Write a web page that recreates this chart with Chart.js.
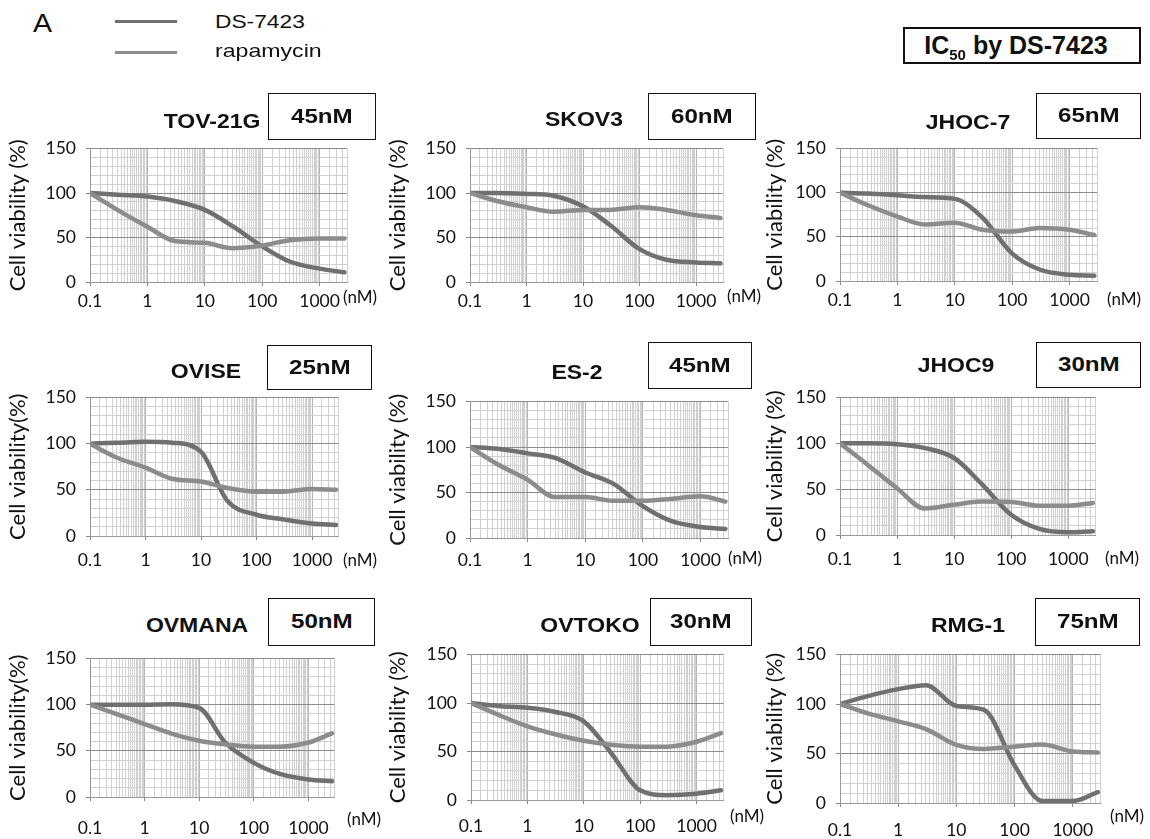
<!DOCTYPE html>
<html>
<head>
<meta charset="utf-8">
<script src="https://cdn.jsdelivr.net/npm/chart.js@4.4.0/dist/chart.umd.min.js"></script>
<style>
  body { margin: 0; background: #fff; }
  #page { position: relative; width: 1150px; height: 839px; overflow: hidden;
          font-family: "Liberation Sans", Arial, sans-serif; color: #111; }
  #page canvas { position: absolute; }
  .txt { position: absolute; white-space: nowrap; line-height: 1; }
  .box { position: absolute; box-sizing: border-box; border: 1.5px solid #111; background: #fff;
         display: flex; align-items: center; justify-content: center; }
  .leg { position: absolute; height: 3px; background: #8a8a8a; }
</style>
</head>
<body>
<div id="page"></div>
<script>
// concentrations (nM), shared by every panel
const doses = [0.1, 0.3, 1, 3, 10, 30, 100, 300, 1000, 2700];
const xMax = 3000;
const xTickValues = [0.1, 1, 10, 100, 1000];
const xTickLabels = ['0.1', '1', '10', '100', '1000'];
const yTickValues = [0, 50, 100, 150];

const cellLines = ['TOV-21G', 'SKOV3', 'JHOC-7', 'OVISE', 'ES-2', 'JHOC9', 'OVMANA', 'OVTOKO', 'RMG-1'];
const ic50Labels = ['45nM', '60nM', '65nM', '25nM', '45nM', '30nM', '50nM', '30nM', '75nM'];
const yTitles = ['Cell viability (%)', 'Cell viability (%)', 'Cell viability (%)',
                 'Cell viability(%)', 'Cell viability (%)', 'Cell viability (%)',
                 'Cell viability(%)', 'Cell viability (%)', 'Cell viability (%)'];

// cell viability (%) per panel
const dsTOV21G  = [100, 98, 96, 91, 81, 63, 40, 23, 15, 11];
const rapTOV21G = [100, 81, 62, 46, 44, 38, 41, 47, 49, 49];
const dsSKOV3   = [100, 100, 99, 97, 85, 64, 37, 25, 22, 21];
const rapSKOV3  = [100, 91, 84, 79, 81, 81, 84, 81, 75, 72];
const dsJHOC7   = [100, 99, 97, 95, 93, 72, 31, 13, 7, 6];
const rapJHOC7  = [100, 86, 73, 64, 66, 58, 56, 60, 58, 52];
const dsOVISE   = [100, 101, 102, 101, 91, 38, 23, 18, 13.5, 12];
const rapOVISE  = [100, 85, 74, 62, 59, 52, 48, 48, 51, 50];
const dsES2     = [100, 98, 93, 88, 72, 60, 35, 19, 12, 10];
const rapES2    = [100, 81, 64, 45, 45, 41, 41, 43, 46, 40];
const dsJHOC9   = [100, 100, 99, 95, 84, 56, 22, 7, 3, 4];
const rapJHOC9  = [100, 77, 51, 29, 33, 36.5, 36, 32, 32, 35];
const dsOVMANA  = [100, 100, 100, 100.5, 96.5, 59, 37, 25, 19, 17];
const rapOVMANA = [100, 90, 79, 69, 61, 57, 54.5, 54.5, 59, 69];
const dsOVTOKO  = [100, 97, 95, 91, 81, 49, 10, 5, 6.5, 10];
const rapOVTOKO = [100, 88, 76, 68, 61, 57, 55, 55, 60, 69];
const dsRMG1    = [100, 108, 115, 119, 98, 94, 38, 2, 2, 11];
const rapRMG1   = [100, 90.5, 82.5, 74.6, 58.7, 54.6, 57, 59, 52, 51];

const dsSeries  = [dsTOV21G, dsSKOV3, dsJHOC7, dsOVISE, dsES2, dsJHOC9, dsOVMANA, dsOVTOKO, dsRMG1];
const rapSeries = [rapTOV21G, rapSKOV3, rapJHOC7, rapOVISE, rapES2, rapJHOC9, rapOVMANA, rapOVTOKO, rapRMG1];

// layout (page pixels)
const colLefts = [0, 380, 760, 0, 380, 760, 0, 380, 760];
const plotRects = [
  [90, 140, 347, 282], [470, 140, 723, 282], [840, 140, 1097, 281],
  [90, 389, 340, 536], [470, 393, 728, 538], [840, 389, 1097, 535],
  [90, 650, 343, 797], [471, 646, 727, 800], [840, 646, 1105, 803]
];
const titleCenters = [[212, 121], [584, 119], [968, 122], [206, 371], [577, 372], [956, 365],
                      [197, 625], [590, 625], [968, 625]];
const boxRects = [
  [268, 93, 376, 140], [648, 93, 756, 140], [1036, 93, 1141, 139],
  [267, 345, 372, 390], [648, 342, 752, 389], [1036, 342, 1141, 388],
  [268, 598, 375, 646], [650, 598, 752, 646], [1035, 598, 1140, 646]
];
const nmPos = [[343, 296], [727, 295], [1107, 298], [343, 559], [728, 557], [1105, 557],
               [347, 818], [730, 815], [1110, 815]];
const labelGaps = [19, 19, 19, 24, 22, 24, 31, 26, 27];

const DS_COLOR = '#707070';
const RAP_COLOR = '#8c8c8c';
const TICK_FONT = { family: 'Lato', size: 17.5 };

const page = document.getElementById('page');

function addText(html, x, y, css, anchor) {
  const d = document.createElement('div');
  d.className = 'txt';
  d.innerHTML = html;
  d.style.left = x + 'px';
  d.style.top = y + 'px';
  Object.assign(d.style, css);
  d.style.transformOrigin = anchor === 'left' ? '0 50%' : '50% 50%';
  page.appendChild(d);
  return d;
}

// grid positions: x at 1, 1.5, 2 ... 9.5 in each decade plus the right edge; y every 10
const xGrid = [];
for (let e = -1; e <= 3; e++) {
  for (let k = 1; k < 10; k += 0.5) {
    const v = parseFloat((k * Math.pow(10, e)).toPrecision(6));
    if (v <= xMax) xGrid.push(v);
  }
}
xGrid.push(xMax);
const yGrid = [];
for (let v = 0; v <= 150; v += 10) yGrid.push(v);

function isDecade(v) {
  const l = Math.log10(v);
  return Math.abs(l - Math.round(l)) < 1e-9 && v <= 1000;
}

Chart.defaults.font.family = 'Lato';
Chart.defaults.color = '#111';

cellLines.forEach((name, i) => {
  const [L, T, R, B] = plotRects[i];
  const padTop = 12, padRight = 8, xH = 45;
  const yW = L - colLefts[i];
  const canvas = document.createElement('canvas');
  const cw = R + padRight - colLefts[i];
  const ch = (B + xH) - (T - padTop);
  canvas.width = cw; canvas.height = ch;
  canvas.style.left = colLefts[i] + 'px';
  canvas.style.top = (T - padTop) + 'px';
  canvas.style.width = cw + 'px';
  canvas.style.height = ch + 'px';
  page.appendChild(canvas);

  const col = i % 3;
  new Chart(canvas.getContext('2d'), {
    type: 'line',
    data: {
      datasets: [
        { label: 'rapamycin', data: doses.map((d, j) => ({ x: d, y: rapSeries[i][j] })),
          borderColor: RAP_COLOR, borderWidth: 4.5, pointRadius: 0, cubicInterpolationMode: 'monotone',
          borderCapStyle: 'round', fill: false },
        { label: 'DS-7423', data: doses.map((d, j) => ({ x: d, y: dsSeries[i][j] })),
          borderColor: DS_COLOR, borderWidth: 4.5, pointRadius: 0, cubicInterpolationMode: 'monotone',
          borderCapStyle: 'round', fill: false }
      ]
    },
    options: {
      responsive: false,
      animation: false,
      devicePixelRatio: 1,
      layout: { padding: { top: padTop, right: padRight, left: 0, bottom: 0 } },
      plugins: { legend: { display: false }, tooltip: { enabled: false } },
      scales: {
        x: {
          type: 'logarithmic',
          min: 0.1, max: xMax,
          afterBuildTicks: s => { s.ticks = xGrid.map(v => ({ value: v })); },
          afterFit: s => { s.height = xH; },
          ticks: {
            autoSkip: false, maxRotation: 0, font: TICK_FONT, color: '#111',
            padding: labelGaps[i] - 4 - 10.5,
            callback: v => {
              const k = xTickValues.findIndex(t => Math.abs(t - v) < 1e-9);
              return k >= 0 ? xTickLabels[k] : '';
            }
          },
          grid: {
            tickLength: 4,
            color: c => isDecade(c.tick.value) ? '#b4b4b4' : '#d0d0d0',
            tickColor: c => isDecade(c.tick.value) ? '#888' : 'rgba(0,0,0,0)'
          },
          border: { color: '#999' }
        },
        y: {
          min: 0, max: 150,
          afterBuildTicks: s => { s.ticks = yGrid.map(v => ({ value: v })); },
          afterFit: s => { s.width = yW; },
          ticks: {
            autoSkip: false, font: TICK_FONT, color: '#111', padding: 10,
            callback: v => yTickValues.includes(v) ? String(v) : ''
          },
          grid: {
            tickLength: 4,
            color: c => yTickValues.includes(c.tick.value) ? '#8c8c8c' : '#d0d0d0',
            tickColor: c => yTickValues.includes(c.tick.value) ? '#888' : 'rgba(0,0,0,0)'
          },
          border: { color: '#999' },
          title: {
            display: true, text: yTitles[i], color: '#111',
            font: { family: 'Lato', size: 22 },
            padding: { top: col === 2 ? 2 : 5, bottom: 0 }
          }
        }
      }
    }
  });

  // panel title, IC50 box, unit label
  addText(name, titleCenters[i][0], titleCenters[i][1],
    { fontSize: '20px', fontWeight: 'bold', transform: 'translate(-50%,-50%) scaleX(1.15)' });
  const [bx1, by1, bx2, by2] = boxRects[i];
  const box = document.createElement('div');
  box.className = 'box';
  box.style.left = bx1 + 'px'; box.style.top = by1 + 'px';
  box.style.width = (bx2 - bx1) + 'px'; box.style.height = (by2 - by1) + 'px';
  const bt = document.createElement('span');
  bt.textContent = ic50Labels[i];
  bt.style.cssText = 'font-size:21px;font-weight:bold;display:inline-block;transform:scaleX(1.15);line-height:1;margin-top:-3px';
  box.appendChild(bt);
  page.appendChild(box);
  addText('(nM)', nmPos[i][0], nmPos[i][1],
    { fontFamily: 'Lato', fontSize: '17px', transform: 'translateY(-50%)' }, 'left');
});

// figure letter and legend
addText('A', 33, 22.5, { fontSize: '26px', transform: 'translateY(-50%) scaleX(1.1)' }, 'left');
const leg1 = document.createElement('div');
leg1.className = 'leg'; leg1.style.cssText += 'left:115px;top:20px;width:62px;background:' + DS_COLOR;
page.appendChild(leg1);
const leg2 = document.createElement('div');
leg2.className = 'leg'; leg2.style.cssText += 'left:115px;top:51px;width:62px;background:' + RAP_COLOR;
page.appendChild(leg2);
addText('DS-7423', 215, 21.7, { fontSize: '18.5px', transform: 'translateY(-50%) scaleX(1.23)' }, 'left');
addText('rapamycin', 215, 51.3, { fontSize: '18.5px', transform: 'translateY(-50%) scaleX(1.25)' }, 'left');

// overall IC50 header box
const ic = document.createElement('div');
ic.className = 'box';
ic.style.cssText += 'left:903px;top:27px;width:238px;height:37px;border:2.5px solid #111;';
ic.innerHTML = '<span style="font-size:25px;font-weight:bold;line-height:1;margin-right:12px">IC<span style="font-size:15px;position:relative;top:6px">50</span> by DS-7423</span>';
page.appendChild(ic);
</script>
</body>
</html>
